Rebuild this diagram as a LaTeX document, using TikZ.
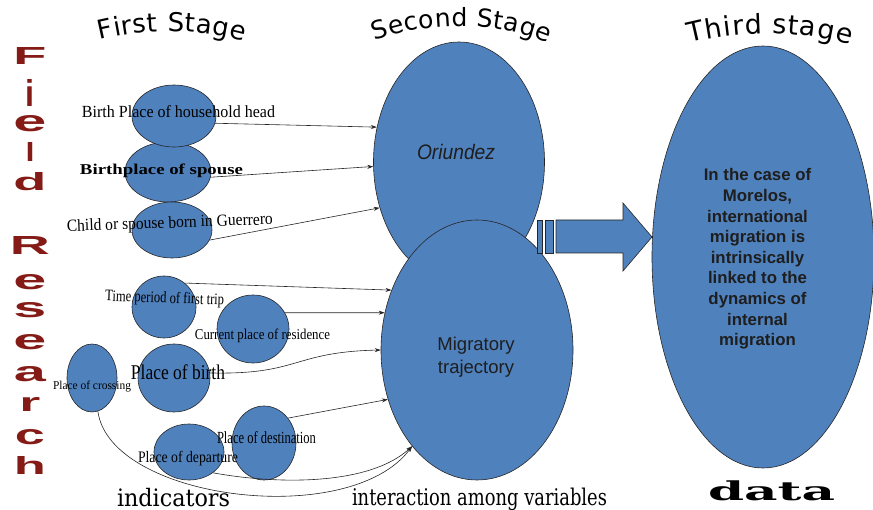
\documentclass[tikz,border=0pt]{standalone}
\usepackage{fontspec}
\setmainfont{Liberation Serif}
\setsansfont{Liberation Sans}
\newfontfamily\bookfont{DejaVu Serif}
\newfontfamily\titlefont{DejaVu Sans}
\usepackage{graphicx}
\usetikzlibrary{shapes.geometric,arrows.meta,decorations.text}
\definecolor{ellblue}{RGB}{79,129,189}
\definecolor{frred}{RGB}{132,27,22}
\definecolor{txtdark}{RGB}{30,30,30}
\newcommand\fitw[3]{\resizebox{#1}{\height}{\fontsize{#2}{#2}\selectfont #3}}
\newcommand\frlet[3]{\resizebox{#1}{#2}{\sffamily\bfseries #3}}
\begin{document}
\begin{tikzpicture}[x=1pt,y=-1pt,
  bub/.style={ellipse, draw=black!85, line width=0.6pt, fill=ellblue, inner sep=0pt},
  lab/.style={inner sep=0pt, anchor=base, text=black},
  conn/.style={draw=black!85, line width=0.6pt, -{Stealth[length=6pt,width=4pt]}},
  frl/.style={inner sep=0pt, text=frred},
  blk/.style={draw=black!85, line width=0.6pt, fill=ellblue}]

\useasboundingbox (0,0) rectangle (873,510);

% titles
\path[decorate, decoration={text along path, text align={fit to path},
  text={|\titlefont\fontsize{26}{26}\selectfont|First Stage}}]
  (100,40) .. controls (150,28) and (195,28) .. (244,41);
\path[decorate, decoration={text along path, text align={fit to path},
  text={|\titlefont\fontsize{25}{25}\selectfont|Second Stage}}]
  (375,41) .. controls (430,21) and (495,21) .. (548,43);
\path[decorate, decoration={text along path, text align={fit to path},
  text={|\titlefont\fontsize{27}{27}\selectfont|Third stage}}]
  (690,43) .. controls (740,30) and (800,30) .. (850,45);

% Field Research
\foreach \ch/\yy/\hh/\ww [count=\k] in {F/56.5/17/33, i/93/27/9, e/123.5/16/33, l/152.5/19/9, d/181.5/18/33,
  R/246/18/40, e/282.5/15/33, s/310.5/15/33, e/342.5/15/33, a/374.5/15/32, r/405/14/21, c/437.5/15/30, h/466/18/32}
{
  \node[frl] (fr\k) at (30,\yy) {\frlet{\ww pt}{\hh pt}{\ch}};
}

% second and third stage
\node[bub, minimum width=171pt, minimum height=240pt] (ori) at (459,162) {};
\node[bub, minimum width=192pt, minimum height=260pt] (mig) at (477,350) {};
\node[bub, minimum width=222pt, minimum height=422pt] (third) at (763,257) {};

% striped arrow
\draw[blk] (537,220) rectangle (542,253);
\draw[blk] (545,220) rectangle (553,253);
\draw[blk] (556,220) -- (623,220) -- (623,203) -- (652,237) -- (623,271) -- (623,253) -- (556,253) -- cycle;

% first stage ellipses
\node[bub, minimum width=86pt, minimum height=60pt] (sp) at (168,172) {};
\node[bub, minimum width=84pt, minimum height=62pt] (hh) at (174,116) {};
\node[bub, minimum width=80pt, minimum height=56pt] (ch) at (172,230) {};
\node[bub, minimum width=64pt, minimum height=62pt] (tp) at (164,307) {};
\node[bub, minimum width=72pt, minimum height=68pt] (cr) at (253,329) {};
\node[bub, minimum width=72pt, minimum height=68pt] (pb) at (174,378) {};
\node[bub, minimum width=50pt, minimum height=68pt] (pc) at (92,378) {};
\node[bub, minimum width=70pt, minimum height=56pt] (pd) at (189,452) {};
\node[bub, minimum width=64pt, minimum height=74pt] (pdst) at (264,443) {};

% connectors
\draw[conn] (hh.-10) -- (ori.157);
\draw[conn] (sp.-7) -- (ori.183);
\draw[conn] (ch.-15) -- (ori.210);
\draw[conn] (tp.49) -- (mig.145);
\draw[conn] (cr.27) -- (mig.158);
\draw[conn] (pb.8) .. controls (300,375) and (292,352) .. (mig.180);
\draw[conn] (pdst.46) -- (mig.209);
\draw[conn] (pd.-41) .. controls (280,485) and (370,485) .. (mig.236);
\draw[conn] (pc.-80) .. controls (110,500) and (350,530) .. (mig.236);

% labels
\node[lab] (l1) at (178.5,118) {\fitw{193pt}{17}{Birth Place of household head}};
\node[lab] (l2) at (161.5,175) {\fitw{163pt}{15}{\bfseries Birthplace of spouse}};
\node[lab, rotate=2] (l3) at (170,228) {\fitw{206pt}{17}{Child or spouse born in Guerrero}};
\node[lab, rotate=-2] (l4) at (164.5,303) {\fitw{119pt}{16}{Time period of first trip}};
\node[lab] (l5) at (262.5,340) {\fitw{135pt}{15}{Current place of residence}};
\node[lab] (l6) at (178,380) {\fitw{94pt}{21}{Place of birth}};
\node[lab] (l7) at (92,390) {\fitw{78pt}{12}{Place of crossing}};
\node[lab] (l8) at (266.5,443) {\fitw{99pt}{17}{Place of destination}};
\node[lab] (l9) at (188,463) {\fitw{100pt}{16}{Place of departure}};

\node[lab, text=txtdark] (orit) at (456,159.3) {\fitw{78pt}{21}{\sffamily\itshape Oriundez}};
\node[inner sep=0pt, align=center, text=txtdark, font=\sffamily\fontsize{18.5}{23}\selectfont] (migt) at (476,357) {Migratory\\trajectory};
\node[inner sep=0pt, align=center, text=txtdark, font=\sffamily\bfseries\fontsize{16.8}{20.6}\selectfont] (thirdt) at (757.5,259)
  {In the case of\\Morelos,\\international\\migration is\\intrinsically\\linked to the\\dynamics of\\internal\\migration};

\node[lab] (ind) at (173.5,506) {\fitw{113pt}{24}{\bookfont indicators}};
\node[lab] (inter) at (479.5,505) {\fitw{255pt}{23}{\bookfont interaction among variables}};
\node[lab] (data) at (771.5,500) {\fitw{127pt}{26}{\bookfont\bfseries data}};
\end{tikzpicture}
\end{document}
